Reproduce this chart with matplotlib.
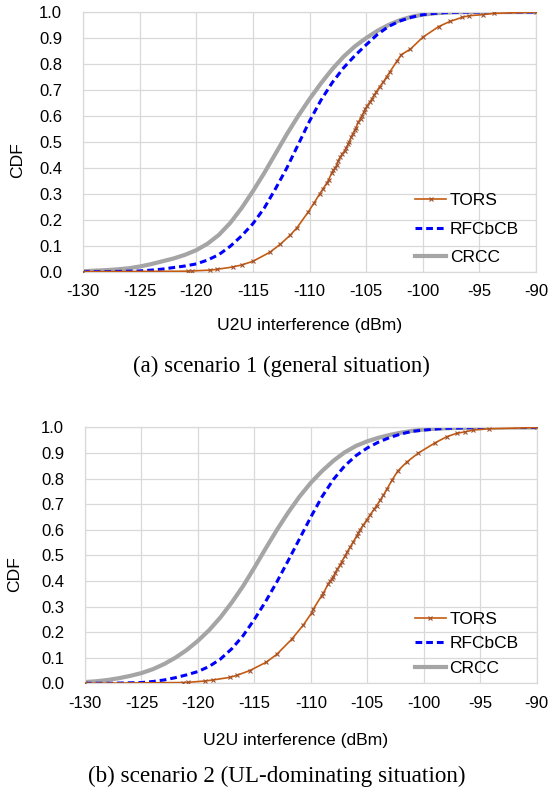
import matplotlib
matplotlib.use('agg')
import matplotlib.pyplot as plt

plt.rcParams['font.family'] = ['Liberation Sans', 'DejaVu Sans']

# x grid for the smooth curves (dBm)
grid_x = [-130, -129, -128, -127, -126, -125, -124, -123, -122, -121, -120,
          -119, -118, -117, -116, -115, -114, -113, -112, -111, -110,
          -109, -108, -107, -106, -105, -104, -103, -102, -101, -100,
          -99, -98, -96, -94, -90]

# scenario 1
crcc_1 = [0.002, 0.004, 0.006, 0.009, 0.013, 0.02, 0.029, 0.04, 0.051, 0.065, 0.083,
          0.108, 0.142, 0.188, 0.245, 0.31, 0.38, 0.455, 0.53, 0.6, 0.665,
          0.725, 0.78, 0.828, 0.868, 0.9, 0.928, 0.951, 0.969, 0.982, 0.99,
          0.995, 0.998, 1.0, 1.0, 1.0]
rfcbcb_1 = [0.0, 0.0, 0.0, 0.001, 0.002, 0.003, 0.006, 0.01, 0.016, 0.022, 0.03,
            0.045, 0.066, 0.098, 0.138, 0.185, 0.245, 0.32, 0.4, 0.49, 0.58,
            0.66, 0.728, 0.785, 0.832, 0.874, 0.914, 0.945, 0.966, 0.98, 0.99,
            0.995, 0.998, 1.0, 1.0, 1.0]
tors_x_1 = [-130, -120.7, -120.4, -118.8, -118.2, -116.8, -116.0, -115.0, -113.5, -112.6,
            -111.7, -111.1, -110.1, -109.6, -109.1, -108.8, -108.5, -108.3, -108.05, -107.9,
            -107.75, -107.6, -107.5, -107.3, -107.1, -106.9, -106.8, -106.6, -106.5, -106.3,
            -106.2, -106.0, -105.9, -105.7, -105.5, -105.4, -105.2, -105.1, -104.9, -104.7,
            -104.5, -104.3, -104.1, -103.8, -103.5, -103.2, -102.9, -102.3, -101.9, -101.1,
            -100.0, -98.6, -97.6, -96.5, -95.9, -94.7, -93.7, -90]
tors_y_1 = [0.0, 0.002, 0.003, 0.006, 0.009, 0.018, 0.026, 0.04, 0.075, 0.105,
            0.141, 0.17, 0.231, 0.265, 0.3, 0.32, 0.34, 0.355, 0.38, 0.39,
            0.4, 0.41, 0.425, 0.44, 0.455, 0.465, 0.475, 0.49, 0.5, 0.52,
            0.53, 0.546, 0.555, 0.575, 0.59, 0.6, 0.615, 0.625, 0.64, 0.652,
            0.665, 0.68, 0.693, 0.713, 0.73, 0.75, 0.77, 0.81, 0.836, 0.857,
            0.903, 0.944, 0.964, 0.98, 0.986, 0.99, 0.995, 1.0]

# scenario 2
crcc_2 = [0.005, 0.008, 0.013, 0.02, 0.029, 0.04, 0.055, 0.075, 0.1, 0.13, 0.166,
          0.208, 0.258, 0.316, 0.38, 0.452, 0.527, 0.6, 0.668, 0.73, 0.784,
          0.83, 0.87, 0.903, 0.928, 0.946, 0.96, 0.971, 0.98, 0.987, 0.992,
          0.995, 0.997, 0.999, 1.0, 1.0]
rfcbcb_2 = [0.0, 0.0, 0.0, 0.001, 0.002, 0.003, 0.007, 0.013, 0.022, 0.033, 0.046,
            0.066, 0.095, 0.135, 0.186, 0.25, 0.32, 0.397, 0.48, 0.565, 0.65,
            0.73, 0.797, 0.85, 0.89, 0.92, 0.943, 0.961, 0.975, 0.985, 0.99,
            0.994, 0.997, 0.999, 1.0, 1.0]
tors_x_2 = [-130, -121.35, -120.85, -119.37, -118.7, -117.2, -116.56, -115.4, -113.97, -113.02,
            -111.7, -110.66, -109.92, -109.78, -109.04, -108.9, -108.45, -108.3, -108.16, -108.0,
            -107.86, -107.65, -107.41, -107.26, -106.97, -106.76, -106.53, -106.23, -105.94, -105.8,
            -105.64, -105.35, -105.05, -104.76, -104.4, -104.17, -103.87, -103.58, -103.28, -102.8,
            -102.3, -101.5, -100.48, -99.0, -97.96, -97.1, -96.35, -95.6, -94.2, -90]
tors_y_2 = [0.0, 0.003, 0.004, 0.009, 0.013, 0.023, 0.031, 0.05, 0.082, 0.113,
            0.172, 0.228, 0.276, 0.29, 0.343, 0.352, 0.389, 0.398, 0.407, 0.417,
            0.43, 0.446, 0.463, 0.476, 0.498, 0.515, 0.532, 0.554, 0.576, 0.587,
            0.6, 0.619, 0.639, 0.658, 0.68, 0.695, 0.715, 0.735, 0.758, 0.795,
            0.83, 0.865, 0.9, 0.94, 0.964, 0.977, 0.983, 0.99, 0.995, 1.0]

x_ticks = [-130, -125, -120, -115, -110, -105, -100, -95, -90]
y_ticks = [0.0, 0.1, 0.2, 0.3, 0.4, 0.5, 0.6, 0.7, 0.8, 0.9, 1.0]
captions = ['(a) scenario 1 (general situation)',
            '(b) scenario 2 (UL-dominating situation)']

GRID = '#d9d9d9'


def draw_panel(ax, tors_x, tors_y, rfcbcb, crcc, xlab_pos, ylab_pos, leg_pos, spacing):
    ax.plot(tors_x, tors_y, color='#c55a11', lw=1.2, marker='x', ms=3.5,
            mec='#a0522d', mew=0.8, label='TORS', zorder=3)
    ax.plot(grid_x, rfcbcb, color='#0000ff', lw=2.2, ls=(0, (2.2, 1.3)),
            label='RFCbCB', zorder=2)
    ax.plot(grid_x, crcc, color='#a5a5a5', lw=3, label='CRCC', zorder=1,
            solid_joinstyle='round')
    ax.set_xlim(-130, -90)
    ax.set_ylim(0, 1)
    ax.set_xticks(x_ticks)
    ax.set_xticklabels([str(t) for t in x_ticks])
    ax.set_yticks(y_ticks)
    ax.set_yticklabels(['%.1f' % t for t in y_ticks])
    ax.tick_params(axis='both', length=0, labelsize=12, colors='#000000')
    ax.tick_params(axis='y', pad=15)
    ax.tick_params(axis='x', pad=9)
    ax.grid(True, color=GRID, lw=0.9)
    ax.set_axisbelow(True)
    for s in ax.spines.values():
        s.set_color(GRID)
        s.set_linewidth(0.9)
    ax.set_xlabel('U2U interference (dBm)', fontsize=12.6)
    ax.xaxis.set_label_coords(*xlab_pos)
    ax.set_ylabel('CDF', fontsize=12.6)
    ax.yaxis.set_label_coords(*ylab_pos)
    ax.legend(loc='center left', bbox_to_anchor=leg_pos, frameon=False,
              fontsize=12.5, handlelength=1.8, handletextpad=0.2,
              borderpad=0, borderaxespad=0, labelspacing=spacing)


fig = plt.figure(figsize=(5.5, 7.94), dpi=100)
ax1 = fig.add_axes([0.151, 0.6578, 0.8236, 0.327])
ax2 = fig.add_axes([0.1545, 0.1394, 0.8213, 0.3222])

draw_panel(ax1, tors_x_1, tors_y_1, rfcbcb_1, crcc_1,
           (0.501, -0.178), (-0.128, 0.43), (0.733, 0.164), 0.78)
draw_panel(ax2, tors_x_2, tors_y_2, rfcbcb_2, crcc_2,
           (0.467, -0.196), (-0.139, 0.427), (0.73, 0.154), 0.55)

fig.text(281 / 550, 1 - 366 / 794, captions[0], ha='center', va='center',
         fontsize=16.5, family=['Liberation Serif', 'DejaVu Serif'])
fig.text(277 / 550, 1 - 776 / 794, captions[1], ha='center', va='center',
         fontsize=16.7, family=['Liberation Serif', 'DejaVu Serif'])

fig.savefig('out.png', dpi=100)
